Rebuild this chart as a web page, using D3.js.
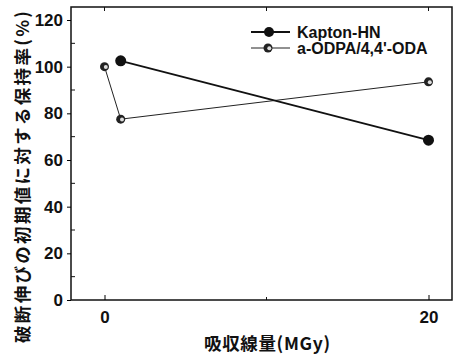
<!DOCTYPE html>
<html lang="ja">
<head>
<meta charset="UTF-8">
<title>保持率</title>
<style>
  body { margin: 0; background: #fff; }
  text { font-family: "Liberation Sans", Arial, sans-serif; fill: #111; }
  .jp { font-family: "Noto Sans CJK JP", sans-serif; font-weight: 700; }
</style>
</head>
<body>
<svg id="chart" width="454" height="357"></svg>
<script src="https://d3js.org/d3.v7.min.js"></script>
<script>
// data
const doseKapton = [1, 20]
const kapton = [102.5, 68.5]
const doseOdpa = [0, 1, 20]
const odpa = [100, 77.5, 93.5]
const seriesNames = ["Kapton-HN", "a-ODPA/4,4'-ODA"]
const xTicks = [0, 20]
const xMinor = [10]
const yTicks = [0, 20, 40, 60, 80, 100, 120]
const yMinor = [10, 30, 50, 70, 90, 110]

const svg = d3.select("#chart")
const mLeft = 71, mRight = 452, mTop = 7, mBottom = 300

const x = d3.scaleLinear().domain([0, 20]).range([104.5, 428.5])
const y = d3.scaleLinear().domain([0, 120]).range([mBottom, 20])

// frame
svg.append("rect")
  .attr("x", mLeft).attr("y", mTop)
  .attr("width", mRight - mLeft).attr("height", mBottom - mTop)
  .attr("fill", "none").attr("stroke", "#111").attr("stroke-width", 1.5)

// y axis: major ticks outward, minor inward
const yAxis = svg.append("g").attr("transform", `translate(${mLeft},0)`)
  .call(d3.axisLeft(y).tickValues(yTicks).tickSize(4).tickPadding(4))
yAxis.select(".domain").remove()
yAxis.selectAll("text").attr("font-size", 17).attr("font-weight", 700)
svg.append("g").selectAll("line").data(yMinor).join("line")
  .attr("x1", mLeft).attr("x2", mLeft + 4)
  .attr("y1", d => y(d)).attr("y2", d => y(d))
  .attr("stroke", "#111")

// x axis: ticks inward on bottom and top
const xAxis = svg.append("g").attr("transform", `translate(0,${mBottom})`)
  .call(d3.axisBottom(x).tickValues(xTicks).tickSize(-5).tickPadding(11))
xAxis.select(".domain").remove()
xAxis.selectAll("text").attr("font-size", 17).attr("font-weight", 700)
svg.append("g").selectAll("line").data(xMinor).join("line")
  .attr("x1", d => x(d)).attr("x2", d => x(d))
  .attr("y1", mBottom).attr("y2", mBottom - 3)
  .attr("stroke", "#111")
svg.append("g").selectAll("line").data(xTicks.concat(xMinor)).join("line")
  .attr("x1", d => x(d)).attr("x2", d => x(d))
  .attr("y1", mTop).attr("y2", mTop + 4)
  .attr("stroke", "#111")

// axis titles
svg.append("text").attr("class", "jp")
  .attr("transform", "translate(29,177) rotate(-90)")
  .attr("text-anchor", "middle")
  .attr("font-size", 17.5)
  .attr("textLength", 332).attr("lengthAdjust", "spacing")
  .text("破断伸びの初期値に対する保持率(%)")

svg.append("text").attr("class", "jp")
  .attr("x", 267).attr("y", 350)
  .attr("text-anchor", "middle")
  .attr("font-size", 17.5)
  .attr("textLength", 126).attr("lengthAdjust", "spacing")
  .text("吸収線量(MGy)")

// lines
const kData = doseKapton.map((d, i) => [d, kapton[i]])
const oData = doseOdpa.map((d, i) => [d, odpa[i]])
const line = d3.line().x(d => x(d[0])).y(d => y(d[1]))

svg.append("path").attr("d", line(oData))
  .attr("fill", "none").attr("stroke", "#222").attr("stroke-width", 1)
svg.append("path").attr("d", line(kData))
  .attr("fill", "none").attr("stroke", "#111").attr("stroke-width", 1.8)

// markers
function halfMarker(g, cx, cy) {
  g.append("circle").attr("cx", cx).attr("cy", cy).attr("r", 4.5)
    .attr("fill", "#222")
  g.append("circle").attr("cx", cx + 1.3).attr("cy", cy + 0.3).attr("r", 2)
    .attr("fill", "#ddd")
}
svg.append("g").selectAll("circle").data(kData).join("circle")
  .attr("cx", d => x(d[0])).attr("cy", d => y(d[1])).attr("r", 5.5)
  .attr("fill", "#111")
const om = svg.append("g")
oData.forEach(d => halfMarker(om, x(d[0]), y(d[1])))

// legend
const legY = [32, 48]
const lg = svg.append("g")
lg.append("line").attr("x1", 251).attr("x2", 290).attr("y1", legY[0]).attr("y2", legY[0])
  .attr("stroke", "#111").attr("stroke-width", 1.8)
lg.append("circle").attr("cx", 269).attr("cy", legY[0]).attr("r", 5).attr("fill", "#111")
lg.append("line").attr("x1", 251).attr("x2", 290).attr("y1", legY[1]).attr("y2", legY[1])
  .attr("stroke", "#222").attr("stroke-width", 1)
halfMarker(lg, 268, legY[1])
lg.selectAll("text").data(seriesNames).join("text")
  .attr("x", 297).attr("y", (d, i) => legY[i] + 6)
  .attr("font-size", 16).attr("font-weight", 700)
  .text(d => d)
</script>
</body>
</html>
